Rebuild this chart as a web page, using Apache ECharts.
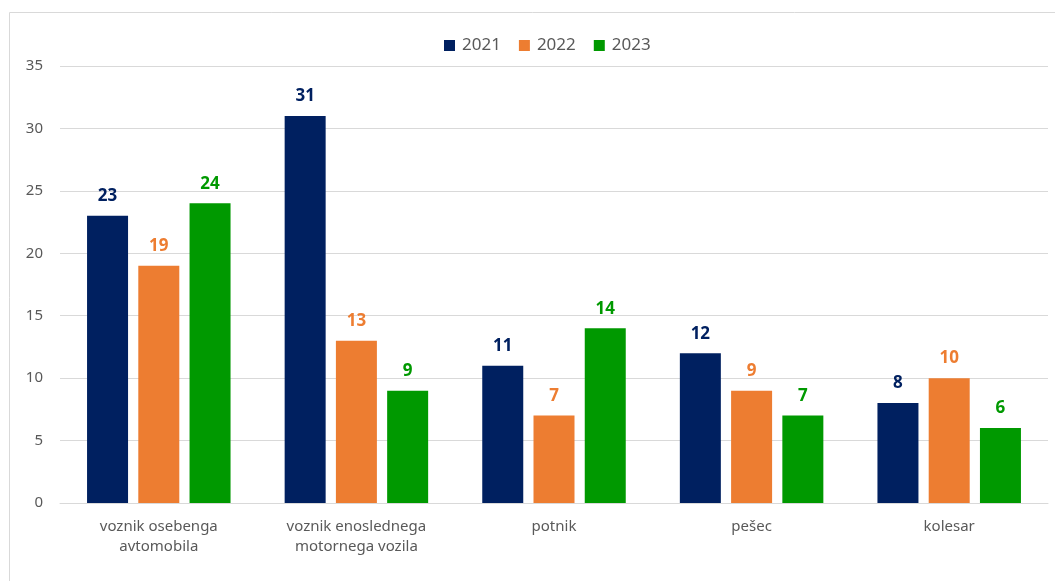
<!DOCTYPE html>
<html><head><meta charset="utf-8">
<script src="https://cdn.jsdelivr.net/npm/echarts@6/dist/echarts.min.js"></script>
<style>html,body{margin:0;padding:0;background:#fff}#c{width:1055px;height:581px}</style>
</head><body><div id="c"></div>
<script>
const categories = ['voznik osebenga\navtomobila', 'voznik enoslednega\nmotornega vozila', 'potnik', 'pešec', 'kolesar'];
const years = ['2021', '2022', '2023'];
const v2021 = [23, 31, 11, 12, 8];
const v2022 = [19, 13, 7, 9, 10];
const v2023 = [24, 9, 14, 7, 6];
const colors = ['#002060', '#ED7D31', '#009900'];
const font = 'Noto Sans';
const chart = echarts.init(document.getElementById('c'));
const mk = (name, data, color) => ({
  name, type: 'bar', data, barWidth: 41, barGap: '25%',
  itemStyle: { color },
  label: { show: true, position: 'top', distance: 11, color, fontWeight: 'bold', fontSize: 17, fontFamily: font }
});
chart.setOption({
  animation: false,
  textStyle: { fontFamily: font },
  graphic: [{ type: 'rect', shape: { x: 9.5, y: 12.5, width: 1100, height: 700 }, style: { fill: 'none', stroke: '#d9d9d9', lineWidth: 1 }, silent: true, z: -1 }],
  legend: {
    data: years, top: 32, left: 439, itemWidth: 11, itemHeight: 11, itemGap: 18,
    icon: 'rect', textStyle: { color: '#595959', fontSize: 17, fontFamily: font, padding: [0, 0, 0, 2] }
  },
  grid: { left: 60, right: 7, top: 66, bottom: 78, containLabel: false },
  xAxis: {
    type: 'category', data: categories,
    axisLine: { lineStyle: { color: '#d9d9d9' } }, axisTick: { show: false },
    axisLabel: { color: '#595959', fontSize: 15, lineHeight: 20, margin: 14, fontFamily: font, interval: 0 }
  },
  yAxis: {
    type: 'value', min: 0, max: 35, interval: 5,
    axisLine: { show: false }, axisTick: { show: false },
    splitLine: { lineStyle: { color: '#d9d9d9' } },
    axisLabel: { color: '#595959', fontSize: 15, margin: 17, fontFamily: font }
  },
  series: [mk(years[0], v2021, colors[0]), mk(years[1], v2022, colors[1]), mk(years[2], v2023, colors[2])]
});
</script></body></html>
